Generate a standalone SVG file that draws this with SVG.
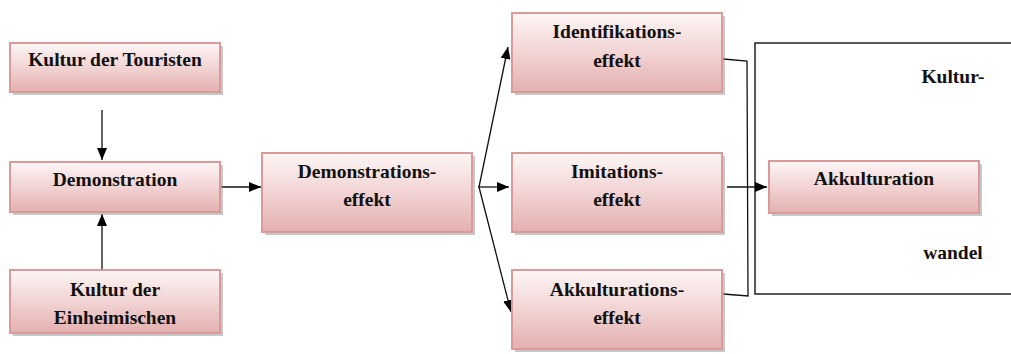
<svg xmlns="http://www.w3.org/2000/svg" width="1011" height="354" viewBox="0 0 1011 354">
<defs>
<linearGradient id="g" x1="0" y1="0" x2="0" y2="1">
<stop offset="0" stop-color="#fdf6f6"/>
<stop offset="0.45" stop-color="#f3d7d7"/>
<stop offset="1" stop-color="#e4b0b0"/>
</linearGradient>
<marker id="ah" viewBox="0 0 12 10" refX="12" refY="5" markerWidth="12" markerHeight="10" markerUnits="userSpaceOnUse" orient="auto">
<path d="M0,0 L12,5 L0,10 Z" fill="#000"/>
</marker>
</defs>
<style>
.shadow{fill:#9a9a9a;opacity:0.55}
.box{fill:url(#g);stroke:#d99a9a;stroke-width:2}
.t{font-family:'Liberation Serif','DejaVu Serif',serif;font-weight:700;font-size:19.5px;fill:#111;text-anchor:middle}
.c{fill:none;stroke:#111;stroke-width:1.3}
</style>
<rect width="1011" height="354" fill="#fff"/>
<g id="frame">
<rect x="755" y="43" width="270" height="251" fill="none" stroke="#222" stroke-width="1.5"/>
<text class="t" x="953" y="83">Kultur-</text>
<text class="t" x="953" y="259">wandel</text>
</g>
<g id="connectors">
<line class="c" x1="102" y1="110" x2="102" y2="160" marker-end="url(#ah)"/>
<line class="c" x1="102" y1="270" x2="102" y2="214" marker-end="url(#ah)"/>
<line class="c" x1="221" y1="187" x2="261" y2="187" marker-end="url(#ah)"/>
<line class="c" x1="479" y1="187" x2="508" y2="47" marker-end="url(#ah)"/>
<line class="c" x1="479" y1="187" x2="511" y2="312" marker-end="url(#ah)"/>
<line class="c" x1="478" y1="187" x2="509" y2="187" marker-end="url(#ah)"/>
<polyline class="c" points="723,59 747,61 748,296 723,294"/>
<line class="c" x1="727" y1="187" x2="767" y2="187" marker-end="url(#ah)"/>
</g>
<g id="n1">
<rect class="shadow" x="13" y="46" width="210" height="49"/>
<rect class="box" x="10" y="43" width="210" height="49"/>
<text class="t" x="115" y="66">Kultur der Touristen</text>
</g>
<g id="n2">
<rect class="shadow" x="13" y="165" width="210" height="50"/>
<rect class="box" x="10" y="162" width="210" height="50"/>
<text class="t" x="115" y="186">Demonstration</text>
</g>
<g id="n3">
<rect class="shadow" x="13" y="273" width="210" height="63"/>
<rect class="box" x="10" y="270" width="210" height="63"/>
<text class="t" x="115" y="296">Kultur der</text>
<text class="t" x="115" y="324">Einheimischen</text>
</g>
<g id="n4">
<rect class="shadow" x="265" y="156" width="210" height="79"/>
<rect class="box" x="262" y="153" width="210" height="79"/>
<text class="t" x="367" y="178">Demonstrations-</text>
<text class="t" x="367" y="206">effekt</text>
</g>
<g id="n5">
<rect class="shadow" x="515" y="16" width="210" height="79"/>
<rect class="box" x="512" y="13" width="210" height="79"/>
<text class="t" x="617" y="38">Identifikations-</text>
<text class="t" x="617" y="67">effekt</text>
</g>
<g id="n6">
<rect class="shadow" x="515" y="156" width="210" height="79"/>
<rect class="box" x="512" y="153" width="210" height="79"/>
<text class="t" x="617" y="178">Imitations-</text>
<text class="t" x="617" y="206">effekt</text>
</g>
<g id="n7">
<rect class="shadow" x="515" y="273" width="210" height="79"/>
<rect class="box" x="512" y="270" width="210" height="79"/>
<text class="t" x="617" y="296">Akkulturations-</text>
<text class="t" x="617" y="324">effekt</text>
</g>
<g id="n8">
<rect class="shadow" x="772" y="164" width="210" height="52"/>
<rect class="box" x="769" y="161" width="210" height="52"/>
<text class="t" x="874" y="185">Akkulturation</text>
</g>
</svg>
